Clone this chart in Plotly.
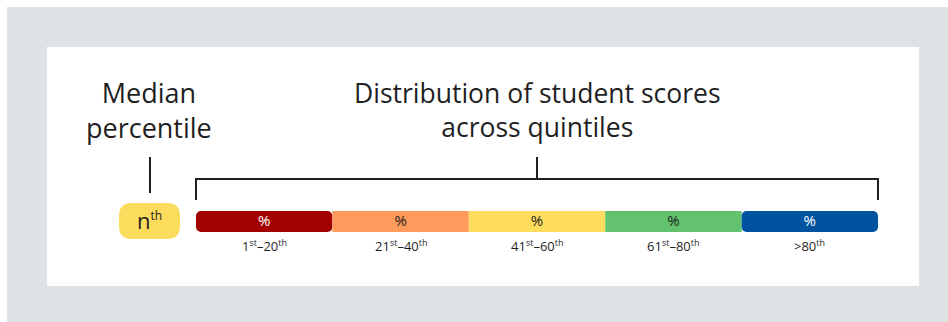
import plotly.graph_objects as go

# ---- data -------------------------------------------------------------
def sup(s, size):
    return f"<sup><span style='font-size:{size}px'>{s}</span></sup>"


quintile_labels = [
    "1" + sup("st", 9) + "–20" + sup("th", 9),
    "21" + sup("st", 9) + "–40" + sup("th", 9),
    "41" + sup("st", 9) + "–60" + sup("th", 9),
    "61" + sup("st", 9) + "–80" + sup("th", 9),
    "&gt;80" + sup("th", 9),
]
quintile_shares = [20, 20, 20, 20, 20]
share_text = ["%", "%", "%", "%", "%"]
median_text = "n" + sup("th", 12)
median_title = "Median<br>percentile"
dist_title = "Distribution of student scores<br>across quintiles"

# ---- style ------------------------------------------------------------
W, H = 948, 322
FONT = "Open Sans"
INK = "#1f1f1f"
seg_colors = ["#a30000", "#fe9a5c", "#fedd5e", "#62c26d", "#00539f"]
seg_text_colors = ["#ffffff", "#1f1f1f", "#1f1f1f", "#1f1f1f", "#ffffff"]
PILL = "#fcdc5c"
BG_GRAY = "#dee2e5"

# pixel layout of the strip
BAR_L, BAR_R = 196, 878
BAR_Y, BAR_H = 221.5, 21
total = sum(quintile_shares)
scale = (BAR_R - BAR_L) / total


def X(px):
    """Convert a horizontal pixel position to x-axis units."""
    return (px - BAR_L) / scale


fig = go.Figure()

# stacked quintile strip: outer segments are drawn from their inner edge
# so that the rounded tip lands on the outside of the strip
starts = [sum(quintile_shares[:i]) for i in range(len(quintile_shares))]
centers = [s + w / 2 for s, w in zip(starts, quintile_shares)]
n = len(quintile_shares)
for i, (s, w) in enumerate(zip(starts, quintile_shares)):
    if i == 0:
        base, val, rad = s + w, -w, 5
    elif i == n - 1:
        base, val, rad = s, w, 5
    else:
        base, val, rad = s, w, 0
    fig.add_trace(go.Bar(
        orientation="h",
        y=[BAR_Y], x=[val], base=[base], width=[BAR_H],
        marker=dict(color=seg_colors[i], line=dict(width=0), cornerradius=rad),
        hoverinfo="skip", showlegend=False,
    ))

# share labels centred on each segment
fig.add_trace(go.Scatter(
    x=centers, y=[BAR_Y + 0.5] * n, mode="text", text=share_text,
    textposition="middle center",
    textfont=dict(family=FONT, size=15, color=seg_text_colors),
    hoverinfo="skip", showlegend=False,
))

shapes = []
# backdrop and panel
shapes.append(dict(type="rect", xref="x", yref="y", x0=X(7), x1=X(W + 2), y0=7, y1=H + 2,
                   fillcolor=BG_GRAY, line=dict(width=0), layer="below"))
shapes.append(dict(type="rect", xref="x", yref="y", x0=X(47), x1=X(919), y0=47, y1=286,
                   fillcolor="white", line=dict(width=0), layer="below"))

# bracket over the strip
line_style = dict(color=INK, width=2)
shapes.append(dict(type="line", x0=0, x1=total, y0=179, y1=179, line=line_style))
shapes.append(dict(type="line", x0=0, x1=0, y0=178, y1=200, line=line_style))
shapes.append(dict(type="line", x0=total, x1=total, y0=178, y1=200, line=line_style))
shapes.append(dict(type="line", x0=total / 2, x1=total / 2, y0=157, y1=179, line=line_style))

# median pill with its tick
PX0, PX1, PY0, PY1, R = 119, 180, 203, 239, 13
pill = (
    f"M {X(PX0 + R)},{PY0} L {X(PX1 - R)},{PY0} Q {X(PX1)},{PY0} {X(PX1)},{PY0 + R} "
    f"L {X(PX1)},{PY1 - R} Q {X(PX1)},{PY1} {X(PX1 - R)},{PY1} "
    f"L {X(PX0 + R)},{PY1} Q {X(PX0)},{PY1} {X(PX0)},{PY1 - R} "
    f"L {X(PX0)},{PY0 + R} Q {X(PX0)},{PY0} {X(PX0 + R)},{PY0} Z"
)
shapes.append(dict(type="path", path=pill, fillcolor=PILL, line=dict(width=0), layer="below"))
shapes.append(dict(type="line", x0=X(150), x1=X(150), y0=157, y1=193, line=line_style))

annotations = []
annotations.append(dict(x=X(149.5), y=220, text=median_text, showarrow=False,
                        font=dict(family=FONT, size=22, color=INK)))
annotations.append(dict(x=X(149), y=110, text=median_title, showarrow=False,
                        font=dict(family=FONT, size=27, color=INK)))
annotations.append(dict(x=total / 2, y=110, text=dist_title, showarrow=False,
                        font=dict(family=FONT, size=26.5, color=INK)))
for c, lab in zip(centers, quintile_labels):
    annotations.append(dict(x=c, y=245, text=lab, showarrow=False,
                            font=dict(family=FONT, size=13, color=INK)))

fig.update_layout(
    width=W, height=H,
    margin=dict(l=0, r=0, t=0, b=0),
    paper_bgcolor="white", plot_bgcolor="rgba(0,0,0,0)",
    barmode="overlay",
    xaxis=dict(range=[X(0), X(W)], visible=False, fixedrange=True),
    yaxis=dict(range=[H, 0], visible=False, fixedrange=True),
    shapes=shapes, annotations=annotations,
    showlegend=False,
)

fig.write_html("out.html", config={"displayModeBar": False})
